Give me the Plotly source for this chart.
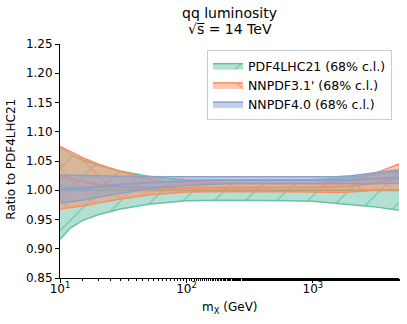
import plotly.graph_objects as go

# invariant mass grid (GeV)
mx = [10, 12, 15, 20, 30, 50, 70, 100, 200, 300, 500, 700, 1000, 1500, 2000, 3000, 4800]

# PDF4LHC21 (reference, central = 1)
pdf4lhc_cv = [1.0] * len(mx)
pdf4lhc_up = [1.075, 1.062, 1.052, 1.043, 1.033, 1.024, 1.020, 1.018, 1.017, 1.017, 1.017, 1.017, 1.018, 1.020, 1.022, 1.026, 1.033]
pdf4lhc_lo = [0.916, 0.935, 0.948, 0.958, 0.968, 0.976, 0.979, 0.982, 0.983, 0.983, 0.983, 0.982, 0.981, 0.978, 0.976, 0.972, 0.966]

# NNPDF3.1'
nn31_cv = [1.025, 1.020, 1.015, 1.010, 1.006, 1.004, 1.004, 1.004, 1.005, 1.005, 1.005, 1.005, 1.005, 1.006, 1.007, 1.012, 1.020]
nn31_up = [1.075, 1.066, 1.056, 1.045, 1.032, 1.020, 1.015, 1.013, 1.012, 1.012, 1.012, 1.012, 1.012, 1.014, 1.018, 1.028, 1.045]
nn31_lo = [0.968, 0.970, 0.973, 0.978, 0.985, 0.992, 0.995, 0.997, 0.998, 0.998, 0.998, 0.997, 0.997, 0.996, 0.997, 1.000, 1.001]

# NNPDF4.0
nn40_cv = [1.000, 1.002, 1.003, 1.006, 1.010, 1.013, 1.015, 1.016, 1.017, 1.017, 1.017, 1.017, 1.016, 1.017, 1.018, 1.020, 1.022]
nn40_up = [1.026, 1.026, 1.026, 1.025, 1.024, 1.023, 1.023, 1.023, 1.023, 1.023, 1.022, 1.022, 1.022, 1.023, 1.025, 1.030, 1.035]
nn40_lo = [0.978, 0.980, 0.983, 0.988, 0.995, 1.002, 1.006, 1.008, 1.011, 1.011, 1.011, 1.011, 1.010, 1.010, 1.010, 1.011, 1.012]

sets = [
    ("PDF4LHC21 (68% c.l.)", pdf4lhc_cv, pdf4lhc_up, pdf4lhc_lo, "#66c2a5", "rgba(102,194,165,0.5)", "/"),
    ("NNPDF3.1' (68% c.l.)", nn31_cv, nn31_up, nn31_lo, "#fc8d62", "rgba(252,141,98,0.5)", "\\"),
    ("NNPDF4.0 (68% c.l.)", nn40_cv, nn40_up, nn40_lo, "#8da0cb", "rgba(141,160,203,0.5)", "-"),
]

fig = go.Figure()
for name, cv, up, lo, col, fcol, hatch in sets:
    fig.add_trace(go.Scatter(x=mx, y=lo, mode="lines", line=dict(color=col, width=1.5),
                             showlegend=False, hoverinfo="skip"))
    fig.add_trace(go.Scatter(x=mx, y=up, mode="lines", line=dict(color=col, width=1.5),
                             fill="tonexty", fillcolor=fcol, name=name,
                             fillpattern=dict(shape=hatch, fgcolor=col, bgcolor=fcol,
                                              fillmode="replace", size=22, solidity=0.05)))
    fig.add_trace(go.Scatter(x=mx, y=cv, mode="lines", line=dict(color=col, width=2),
                             showlegend=False, hoverinfo="skip"))

# plot area in pixels: x 60..399, y 44..278
PW, PH = 339, 234

# title (two lines) and axis titles as annotations
fig.add_annotation(text="qq luminosity", xref="paper", yref="paper", x=0.5, y=1.0 + 31 / PH,
                   xanchor="center", yanchor="middle", showarrow=False, font=dict(size=14))
fig.add_annotation(text="√s̅ = 14 TeV", xref="paper", yref="paper", x=0.5, y=1.0 + 15 / PH,
                   xanchor="center", yanchor="middle", showarrow=False, font=dict(size=14))
fig.add_annotation(text="m<sub>X</sub> (GeV)", xref="paper", yref="paper", x=0.5, y=-30 / PH,
                   xanchor="center", yanchor="middle", showarrow=False, font=dict(size=12))
fig.add_annotation(text="Ratio to PDF4LHC21", xref="paper", yref="paper", x=-49 / PW, y=0.51,
                   xanchor="center", yanchor="middle", textangle=-90, showarrow=False,
                   font=dict(size=12))

fig.update_layout(
    width=407, height=324,
    margin=dict(l=60, r=8, t=44, b=46, autoexpand=False),
    plot_bgcolor="white", paper_bgcolor="white",
    font=dict(family="DejaVu Sans", size=12, color="black"),
    legend=dict(x=(392 - 60) / PW, y=1 - (50 - 44) / PH, xanchor="right", yanchor="top",
                bgcolor="white", bordercolor="#cccccc", borderwidth=1, font=dict(size=12.5),
                traceorder="normal", tracegroupgap=0, itemwidth=30),
)
fig.update_xaxes(type="log", range=[1, 3.681], showline=True, linecolor="black", linewidth=1,
                 ticks="outside", ticklen=4, tickcolor="black", showgrid=False, zeroline=False,
                 automargin=False, ticklabelstandoff=-4,
                 tickvals=[10, 100, 1000], ticktext=["10<sup>1</sup>", "10<sup>2</sup>", "10<sup>3</sup>"],
                 minor=dict(ticks="outside", ticklen=2, tickcolor="black", showgrid=False))
fig.update_yaxes(range=[0.85, 1.25], dtick=0.05, tickformat=".2f", showline=True, linecolor="black",
                 linewidth=1, ticks="outside", ticklen=4, tickcolor="black", showgrid=False,
                 automargin=False, zeroline=False)

# drop the default page margin so the figure sits at the window's corner
fig.write_html("out.html", config={"displayModeBar": False},
               post_script="document.body.style.margin='0';")
